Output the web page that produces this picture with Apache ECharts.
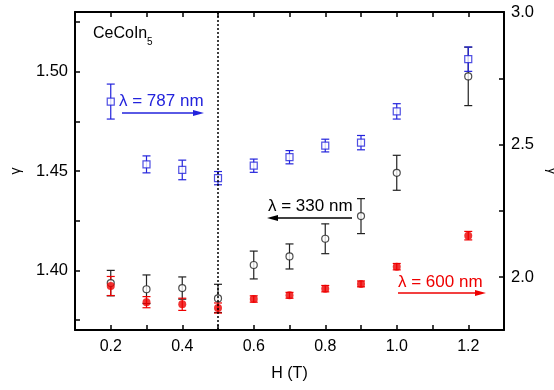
<!DOCTYPE html>
<html>
<head>
<meta charset="utf-8">
<script src="https://cdn.jsdelivr.net/npm/echarts@6/dist/echarts.min.js"></script>
<style>
html, body { margin: 0; padding: 0; background: #fff; }
#main { width: 554px; height: 390px; }
</style>
</head>
<body>
<div id="main"></div>
<script>
// magnetic field H (T)
var hField = [0.2, 0.3, 0.4, 0.5, 0.6, 0.7, 0.8, 0.9, 1.0, 1.2];

// lambda = 330 nm, left axis
var gamma330 = [1.3936, 1.3905, 1.3911, 1.3859, 1.4027, 1.4070, 1.4159, 1.4273, 1.4491, 1.4976];
var err330 = [0.0064, 0.0072, 0.0056, 0.0071, 0.0070, 0.0063, 0.0075, 0.0088, 0.0088, 0.0147];

// lambda = 787 nm, right axis
var gamma787 = [2.662, 2.425, 2.404, 2.373, 2.420, 2.452, 2.496, 2.507, 2.625, 2.822];
var err787 = [0.066, 0.032, 0.037, 0.025, 0.025, 0.025, 0.024, 0.027, 0.029, 0.046];

// lambda = 600 nm, right axis
var gamma600 = [1.966, 1.905, 1.897, 1.883, 1.917, 1.931, 1.956, 1.974, 2.039, 2.156];
var err600 = [0.036, 0.021, 0.023, 0.019, 0.012, 0.011, 0.012, 0.011, 0.012, 0.016];

var xTicks = [0.1, 0.2, 0.3, 0.4, 0.5, 0.6, 0.7, 0.8, 0.9, 1.0, 1.1, 1.2, 1.3];
var xLabels = [0.2, 0.4, 0.6, 0.8, 1.0, 1.2];
var leftTicks = [1.375, 1.40, 1.425, 1.45, 1.475, 1.50, 1.525];
var leftLabels = [1.40, 1.45, 1.50];
var rightTicks = [2.0, 2.25, 2.5, 2.75, 3.0];
var rightLabels = [2.0, 2.5, 3.0];

var font = 'Liberation Sans, Arial, sans-serif';
var blue = '#2323dc';
var red = '#ee0000';

function pts(ys, es) {
    var out = [];
    for (var i = 0; i < hField.length; i++) {
        out.push([hField[i], ys[i], es[i]]);
    }
    return out;
}

function errBars(color, yIdx, ys, es) {
    return {
        type: 'custom',
        yAxisIndex: yIdx,
        silent: true,
        z: 2,
        data: pts(ys, es),
        encode: { x: 0, y: 1 },
        renderItem: function (params, api) {
            var x = api.value(0), y = api.value(1), e = api.value(2);
            var top = api.coord([x, y + e]);
            var bot = api.coord([x, y - e]);
            var w = 4;
            var st = { stroke: color, lineWidth: 1.2 };
            return {
                type: 'group',
                children: [
                    { type: 'line', shape: { x1: top[0], y1: top[1], x2: bot[0], y2: bot[1] }, style: st },
                    { type: 'line', shape: { x1: top[0] - w, y1: top[1], x2: top[0] + w, y2: top[1] }, style: st },
                    { type: 'line', shape: { x1: bot[0] - w, y1: bot[1], x2: bot[0] + w, y2: bot[1] }, style: st }
                ]
            };
        }
    };
}

function arrow(x1, x2, y, color) {
    var dir = x2 > x1 ? 1 : -1;
    return [
        { type: 'line', shape: { x1: x1, y1: y, x2: x2 - dir * 6, y2: y }, style: { stroke: color, lineWidth: 1.5 } },
        { type: 'polygon', shape: { points: [[x2, y], [x2 - dir * 11, y - 3], [x2 - dir * 11, y + 3]] }, style: { fill: color } }
    ];
}

var mychart = echarts.init(document.getElementById('main'));

var axisLineStyle = { show: true, lineStyle: { color: '#000', width: 2 } };

var option = {
    animation: false,
    backgroundColor: '#fff',
    grid: { left: 75, right: 50, top: 12, bottom: 60, containLabel: false, outerBoundsMode: 'none' },
    xAxis: [
        {
            type: 'value', min: 0.1, max: 1.3, position: 'bottom',
            name: 'H (T)', nameLocation: 'middle', nameGap: 36,
            nameTextStyle: { fontFamily: font, fontSize: 16, color: '#000' },
            axisLine: axisLineStyle,
            axisTick: { inside: true, length: 5, customValues: xTicks, lineStyle: { color: '#000', width: 1.5 } },
            axisLabel: { customValues: xLabels, margin: 9, fontFamily: font, fontSize: 16, color: '#000',
                formatter: function (v) { return v.toFixed(1); } },
            splitLine: { show: false }
        },
        {
            type: 'value', min: 0.1, max: 1.3, position: 'top',
            axisLine: axisLineStyle,
            axisTick: { inside: true, length: 5, customValues: xTicks, lineStyle: { color: '#000', width: 1.5 } },
            axisLabel: { show: false },
            splitLine: { show: false }
        }
    ],
    yAxis: [
        {
            type: 'value', min: 1.37, max: 1.53, position: 'left',
            name: 'γ', nameLocation: 'middle', nameGap: 52, nameRotate: 90,
            nameTextStyle: { fontFamily: font, fontSize: 14, color: '#000' },
            axisLine: axisLineStyle,
            axisTick: { inside: true, length: 5, customValues: leftTicks, lineStyle: { color: '#000', width: 1.5 } },
            axisLabel: { customValues: leftLabels, margin: 7, fontFamily: font, fontSize: 16.5, color: '#000',
                formatter: function (v) { return v.toFixed(2); } },
            splitLine: { show: false }
        },
        {
            type: 'value', min: 1.8, max: 3.0, position: 'right',
            name: 'γ', nameLocation: 'middle', nameGap: 41, nameRotate: -90,
            nameTextStyle: { fontFamily: font, fontSize: 14, color: '#000' },
            axisLine: axisLineStyle,
            axisTick: { inside: true, length: 5, customValues: rightTicks, lineStyle: { color: '#000', width: 1.5 } },
            axisLabel: { customValues: rightLabels, margin: 7, fontFamily: font, fontSize: 16.5, color: '#000',
                formatter: function (v) { return v.toFixed(1); } },
            splitLine: { show: false }
        }
    ],
    series: [
        errBars('#222', 0, gamma330, err330),
        errBars(red, 1, gamma600, err600),
        errBars(blue, 1, gamma787, err787),
        {
            type: 'scatter', name: '330 nm', yAxisIndex: 0, z: 3,
            data: pts(gamma330, err330),
            symbol: 'circle', symbolSize: 7,
            itemStyle: { color: '#fff', borderColor: '#222', borderWidth: 1.2 },
            markLine: {
                silent: true, symbol: ['none', 'none'],
                label: { show: false },
                lineStyle: { type: [2, 2], color: '#000', width: 1.5 },
                data: [{ xAxis: 0.5 }]
            }
        },
        {
            type: 'scatter', name: '600 nm', yAxisIndex: 1, z: 4,
            data: pts(gamma600, err600),
            symbol: 'circle', symbolSize: 8,
            itemStyle: { color: red }
        },
        {
            type: 'scatter', name: '787 nm', yAxisIndex: 1, z: 4,
            data: pts(gamma787, err787),
            symbol: 'rect', symbolSize: 7,
            itemStyle: { color: '#fff', borderColor: blue, borderWidth: 1.2 }
        }
    ],
    graphic: [
        { type: 'text', style: { x: 93, y: 34, text: 'CeCoIn', fontFamily: font, fontSize: 16, fill: '#000', textVerticalAlign: 'middle' } },
        { type: 'text', style: { x: 147, y: 42, text: '5', fontFamily: font, fontSize: 10, fill: '#000', textVerticalAlign: 'middle' } },
        { type: 'text', style: { x: 119, y: 101, text: 'λ = 787 nm', fontFamily: font, fontSize: 17, fill: blue, textVerticalAlign: 'middle' } },
        { type: 'text', style: { x: 268, y: 206, text: 'λ = 330 nm', fontFamily: font, fontSize: 17, fill: '#000', textVerticalAlign: 'middle' } },
        { type: 'text', style: { x: 398, y: 282, text: 'λ = 600 nm', fontFamily: font, fontSize: 17, fill: red, textVerticalAlign: 'middle' } }
    ]
        .concat(arrow(122, 204, 113, blue))
        .concat(arrow(352, 267, 218, '#000'))
        .concat(arrow(398, 486, 293, red))
};
mychart.setOption(option);
</script>
</body>
</html>
